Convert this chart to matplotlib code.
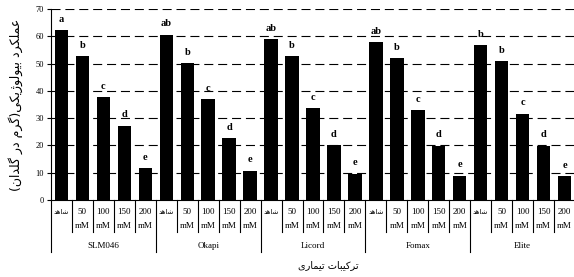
import matplotlib
matplotlib.use("Agg")
import matplotlib.pyplot as plt
import matplotlib.transforms as mtransforms

plt.rcParams['lines.scale_dashes'] = False

groups = ["SLM046", "Okapi", "Licord", "Fomax", "Elite"]
levels = ["شاهد", "50\nmM", "100\nmM", "150\nmM", "200\nmM"]
values = {
    "SLM046": [62.3, 52.6, 37.6, 27.3, 11.7],
    "Okapi":  [60.6, 50.2, 37.0, 22.7, 10.8],
    "Licord": [59.0, 52.6, 33.6, 20.2, 9.7],
    "Fomax":  [57.8, 51.9, 33.0, 19.9, 8.9],
    "Elite":  [56.8, 50.9, 31.7, 19.9, 8.7],
}
letters = {
    "SLM046": ["a", "b", "c", "d", "e"],
    "Okapi":  ["ab", "b", "c", "d", "e"],
    "Licord": ["ab", "b", "c", "d", "e"],
    "Fomax":  ["ab", "b", "c", "d", "e"],
    "Elite":  ["b", "b", "c", "d", "e"],
}
yticks = [0, 10, 20, 30, 40, 50, 60, 70]
ylabel = "عملکرد بیولوژیکی(گرم در گلدان)"
xlabel = "ترکیبات تیماری"

# --- simple Persian shaping for matplotlib (no native bidi/shaping) ---
FORMS = {
    '\u0627': ('\uFE8D', '\uFE8E', None, None),
    '\u0628': ('\uFE8F', '\uFE90', '\uFE91', '\uFE92'),
    '\u062A': ('\uFE95', '\uFE96', '\uFE97', '\uFE98'),
    '\u062F': ('\uFEA9', '\uFEAA', None, None),
    '\u0631': ('\uFEAD', '\uFEAE', None, None),
    '\u0698': ('\uFB8A', '\uFB8B', None, None),
    '\u0634': ('\uFEB5', '\uFEB6', '\uFEB7', '\uFEB8'),
    '\u0639': ('\uFEC9', '\uFECA', '\uFECB', '\uFECC'),
    '\u06A9': ('\uFB8E', '\uFB8F', '\uFB90', '\uFB91'),
    '\u06AF': ('\uFB92', '\uFB93', '\uFB94', '\uFB95'),
    '\u0644': ('\uFEDD', '\uFEDE', '\uFEDF', '\uFEE0'),
    '\u0645': ('\uFEE1', '\uFEE2', '\uFEE3', '\uFEE4'),
    '\u0646': ('\uFEE5', '\uFEE6', '\uFEE7', '\uFEE8'),
    '\u0647': ('\uFEE9', '\uFEEA', '\uFEEB', '\uFEEC'),
    '\u0648': ('\uFEED', '\uFEEE', None, None),
    '\u06CC': ('\uFBFC', '\uFBFD', '\uFBFE', '\uFBFF'),
}


def shape(text):
    out = []
    n = len(text)
    for i, ch in enumerate(text):
        if ch not in FORMS:
            out.append(ch)
            continue
        prev = text[i - 1] if i > 0 else None
        nxt = text[i + 1] if i < n - 1 else None
        join_prev = prev in FORMS and FORMS[prev][2] is not None
        join_next = nxt in FORMS and FORMS[ch][2] is not None
        iso, fin, ini, med = FORMS[ch]
        if join_prev and join_next:
            out.append(med)
        elif join_prev:
            out.append(fin)
        elif join_next:
            out.append(ini)
        else:
            out.append(iso)
    vis = ''.join(out)[::-1]
    vis = vis.translate(str.maketrans({'(': ')', ')': '('}))
    return vis


serif = ['Liberation Serif', 'DejaVu Sans']
arab = ['DejaVu Sans']

fig = plt.figure(figsize=(5.74, 2.77), dpi=100)
ax = fig.add_axes([51 / 574, 77 / 277, 524 / 574, 191 / 277])

xs = []
heights = []
labs = []
for gi, g in enumerate(groups):
    for li in range(len(levels)):
        xs.append(gi * len(levels) + li)
        heights.append(values[g][li])
        labs.append(letters[g][li])

ax.bar(xs, heights, width=0.64, color='black', zorder=3)
for x, h, t in zip(xs, heights, labs):
    ax.text(x, h + 2.3, t, ha='center', va='bottom', fontsize=7.5,
            fontweight='bold', family=serif, zorder=4)

ax.set_xlim(-0.5, len(xs) - 0.5)
ax.set_ylim(0, 70)
ax.set_yticks(yticks)
ax.set_yticklabels([str(v) for v in yticks], family=serif, fontsize=6)
ax.tick_params(axis='y', direction='out', length=3, width=0.8, pad=2)
ax.set_xticks([])
for y in yticks[1:]:
    ax.axhline(y, color='black', lw=0.8, dashes=(6.5, 3.5), zorder=1)
for s in ['top', 'right']:
    ax.spines[s].set_visible(False)
ax.spines['left'].set_linewidth(0.8)
ax.spines['bottom'].set_linewidth(0.8)

tr = mtransforms.blended_transform_factory(ax.transData, ax.transAxes)
H = 191.0


def fy(px):
    return (200 - px) / H


# tick labels per bar
for x in xs:
    lab = levels[x % len(levels)]
    if '\n' in lab:
        num, unit = lab.split('\n')
        ax.text(x, fy(212), num, transform=tr, ha='center', va='center',
                fontsize=6.5, family=serif, clip_on=False)
        ax.text(x, fy(226), unit, transform=tr, ha='center', va='center',
                fontsize=6.5, family=serif, clip_on=False)
    else:
        ax.text(x, fy(212), shape(lab), transform=tr, ha='center', va='center',
                fontsize=5, family=arab, clip_on=False)

# separators
for x in xs[:-1]:
    if (x + 1) % len(levels) == 0:
        continue
    ax.plot([x + 0.5, x + 0.5], [0, fy(232)], transform=tr, color='black',
            lw=0.8, clip_on=False)
for gi in range(len(groups) + 1):
    xb = gi * len(levels) - 0.5
    ax.plot([xb, xb], [0, fy(252)], transform=tr, color='black',
            lw=0.8, clip_on=False)

# group labels
for gi, g in enumerate(groups):
    xc = gi * len(levels) + (len(levels) - 1) / 2
    ax.text(xc, fy(246), g, transform=tr, ha='center', va='center',
            fontsize=6.5, family=serif, clip_on=False)

fig.text(328 / 574, 1 - 265 / 277, shape(xlabel), ha='center', va='center',
         fontsize=7, family=arab)
fig.text(16 / 574, 1 - 105 / 277, shape(ylabel), ha='center', va='center',
         fontsize=9, family=arab, rotation=90)

fig.savefig('out.png', dpi=100)
